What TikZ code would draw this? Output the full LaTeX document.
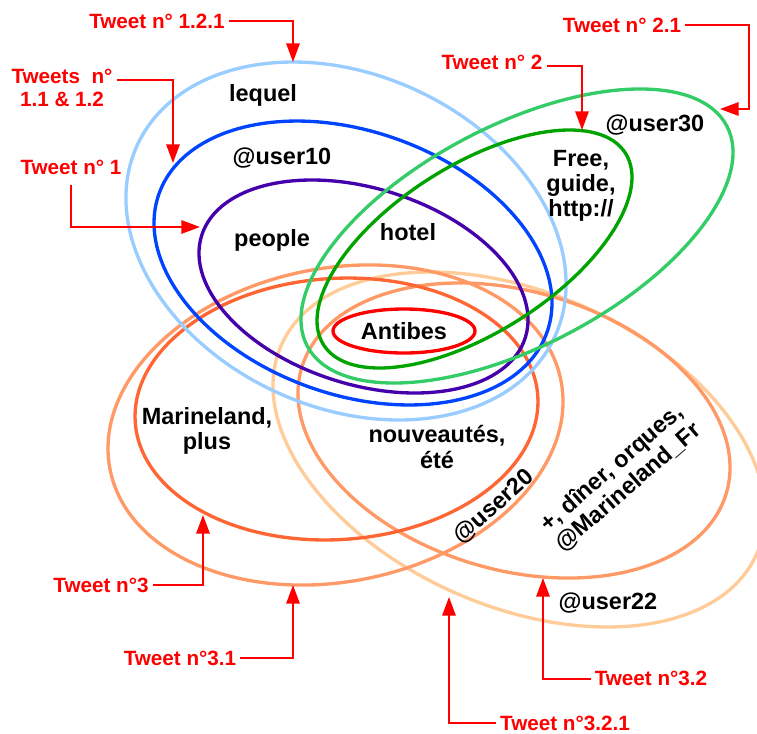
\documentclass[tikz,border=0pt]{standalone}
\usepackage{fontspec}
\setmainfont{Liberation Sans}
\usetikzlibrary{arrows.meta}
\definecolor{setLightBlue}{HTML}{99CCFF}
\definecolor{setBlue}{HTML}{0044FF}
\definecolor{setPurple}{HTML}{4400AA}
\definecolor{setLightGreen}{HTML}{33CC66}
\definecolor{setGreen}{HTML}{00A300}
\definecolor{setRed}{HTML}{FF0000}
\definecolor{setOrange}{HTML}{FF6633}
\definecolor{setSalmon}{HTML}{FF9966}
\definecolor{setPeach}{HTML}{FFCC99}
\definecolor{tweetRed}{HTML}{FF0000}
\begin{document}
\begin{tikzpicture}
[x=0.75pt,y=-0.75pt,
  setDecorate/.style={line width=2.5pt},
  wordDecorate/.style={inner sep=0pt,align=center,font=\bfseries\fontsize{17.6}{19}\selectfont},
  tweetDecorate/.style={inner sep=3pt,align=center,text=tweetRed,font=\bfseries\fontsize{15.5}{17}\selectfont},
  arrowDecorate/.style={draw=tweetRed,line width=1.5pt,-{Triangle[length=14pt,width=10pt]}}]
\useasboundingbox (0,0) rectangle (757,733);
%% sets or ellipses
\foreach \setcolor/\x/\y/\a/\b/\angle in {
  setPeach/519/449.5/259.6/156.9/-23.65,
  setSalmon/514/430.5/221.4/139.3/-16.4,
  setSalmon/335.5/425/229.8/156.7/11.15,
  setOrange/336.5/409/201.7/130.6/3.66,
  setLightBlue/346/241/229.7/166.4/-24.6,
  setBlue/353/263/206/131.5/-19.7,
  setPurple/363.5/286.5/169.7/98/-17.5,
  setLightGreen/517/236/236.9/110.2/27.65,
  setGreen/474.5/249/178.8/83.6/32.4,
  setRed/404/331/71/22/0}
{
  \draw[setDecorate,draw=\setcolor,rotate around={\angle:(\x,\y)}] (\x,\y) ellipse [x radius=\a, y radius=\b];
}
%% words
\node (lequel) at (263,95) [wordDecorate] {lequel};
\node (user10) at (282,158) [wordDecorate] {@user10};
\node (people) at (272,240) [wordDecorate] {people};
\node (hotel) at (408,232) [wordDecorate] {hotel};
\node (user30) at (655,125) [wordDecorate] {@user30};
\node (free) at (581,186) [wordDecorate] {Free,\\guide,\\http://};
\node (antibes) at (404,331) [wordDecorate] {Antibes};
\node (marineland) at (207,431) [wordDecorate] {Marineland,\\plus};
\node (nouveautes) at (437,447) [wordDecorate] {nouveautés,\\été};
\node (user20) at (494,507) [wordDecorate,rotate=42] {@user20};
\node (diner) at (620,478) [wordDecorate,rotate=41] {+, dîner, orques,\\@Marineland\_Fr};
\node (user22) at (608,603) [wordDecorate] {@user22};
%% tweets
\node (t121) at (157,21) [tweetDecorate] {Tweet n° 1.2.1};
\node (t11) at (62,88) [tweetDecorate] {Tweets\ \ n°\\1.1 \& 1.2};
\node (t1) at (71,167) [tweetDecorate] {Tweet n° 1};
\node (t2) at (492,62) [tweetDecorate] {Tweet n° 2};
\node (t21) at (622,25) [tweetDecorate] {Tweet n° 2.1};
\node (t3) at (101,585) [tweetDecorate] {Tweet n°3};
\node (t31) at (180,658) [tweetDecorate] {Tweet n°3.1};
\node (t32) at (651,678) [tweetDecorate] {Tweet n°3.2};
\node (t321) at (565,723) [tweetDecorate] {Tweet n°3.2.1};
%% arrow tips on the sets
\coordinate (c121) at (293,62);
\coordinate (c11) at (173,163);
\coordinate (c1) at (200,227);
\coordinate (c2) at (582,130);
\coordinate (c21) at (720,109);
\coordinate (c3) at (203,515);
\coordinate (c31) at (293,585);
\coordinate (c32) at (543,578);
\coordinate (c321) at (449,597);
%% arrows
\draw[arrowDecorate] (t121.east) -| (c121);
\draw[arrowDecorate] ([yshift=6pt]t11.east) -| (c11);
\draw[arrowDecorate] ([yshift=-5pt]t1.south) |- (c1);
\draw[arrowDecorate] ([yshift=-3pt]t2.east) -| (c2);
\draw[arrowDecorate] (t21.east) -| ([xshift=21.75pt]c21) -- (c21);
\draw[arrowDecorate] (t3.east) -| (c3);
\draw[arrowDecorate] (t31.east) -| (c31);
\draw[arrowDecorate] ([yshift=-1pt]t32.west) -| (c32);
\draw[arrowDecorate] (t321.west) -| (c321);
\end{tikzpicture}
\end{document}
